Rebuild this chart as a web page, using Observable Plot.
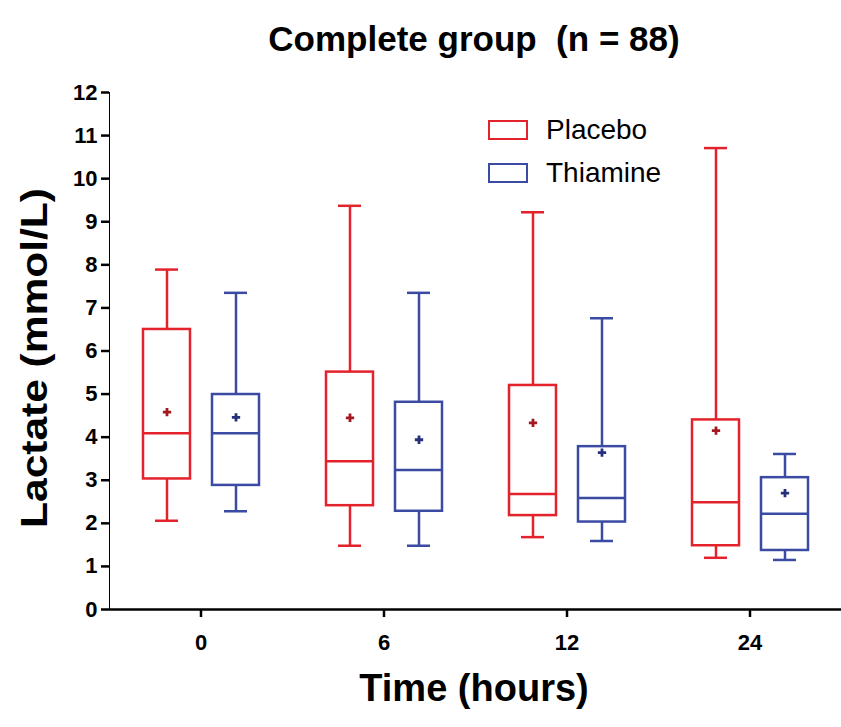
<!DOCTYPE html>
<html>
<head>
<meta charset="utf-8">
<script src="https://cdn.jsdelivr.net/npm/d3@7"></script>
<script src="https://cdn.jsdelivr.net/npm/@observablehq/plot@0.6"></script>
<style>
  html, body { margin: 0; padding: 0; background: #fff; }
  #wrap { position: relative; width: 841px; height: 727px; overflow: hidden; font-family: "Liberation Sans", Arial, sans-serif; color: #000; }
  #title { position: absolute; left: 107px; width: 734px; top: 19px; text-align: center; font-weight: bold; font-size: 35px; white-space: pre; }
  #xlabel { position: absolute; left: 107px; width: 734px; top: 667px; text-align: center; font-weight: bold; font-size: 38px; }
  #ylabel { position: absolute; left: 35px; top: 358px; transform: translate(-50%, -50%) rotate(-90deg) scaleX(1.18); font-weight: bold; font-size: 36px; white-space: nowrap; }
  #chart { position: absolute; left: 0; top: 75px; }
  #legend { position: absolute; left: 488px; top: 108px; font-size: 28px; }
  .li { display: flex; align-items: center; height: 43px; }
  .sw { width: 36px; height: 16px; border: 2.5px solid; margin-right: 18px; background: #fff; }
  #chart svg g[aria-label="y-axis tick"] path, #chart svg g[aria-label="fx-axis tick"] path { stroke-width: 2.5px; }
  #chart svg g[aria-label="y-axis tick label"], #chart svg g[aria-label="fx-axis tick label"],
  #chart svg g[aria-label="y-axis tick label"] text, #chart svg g[aria-label="fx-axis tick label"] text { font-size: 22px !important; font-weight: bold; }
</style>
</head>
<body>
<div id="wrap">
  <div id="title"></div>
  <div id="chart"></div>
  <div id="xlabel"></div>
  <div id="ylabel"></div>
  <div id="legend"></div>
</div>
<script>
// ---- Data ----
const titleText = "Complete group  (n = 88)";
const xTitle = "Time (hours)";
const yTitle = "Lactate (mmol/L)";
const times = ["0", "6", "12", "24"];
const groups = ["Placebo", "Thiamine"];
const groupColors = ["#e4222b", "#3b4aa3"];
const meanColors = ["#a3191f", "#26307a"];
const yTicks = [0, 1, 2, 3, 4, 5, 6, 7, 8, 9, 10, 11, 12];

const placeboMin    = [2.06, 1.48, 1.68, 1.20];
const placeboQ1     = [3.03, 2.41, 2.18, 1.48];
const placeboMedian = [4.09, 3.44, 2.68, 2.49];
const placeboQ3     = [6.50, 5.51, 5.20, 4.40];
const placeboMax    = [7.89, 9.37, 9.22, 10.71];
const placeboMean   = [4.58, 4.45, 4.33, 4.15];

const thiamineMin    = [2.28, 1.48, 1.59, 1.15];
const thiamineQ1     = [2.88, 2.28, 2.03, 1.37];
const thiamineMedian = [4.09, 3.24, 2.59, 2.22];
const thiamineQ3     = [4.99, 4.81, 3.78, 3.06];
const thiamineMax    = [7.35, 7.35, 6.76, 3.61];
const thiamineMean   = [4.46, 3.94, 3.64, 2.70];

// ---- Build table ----
const rows = [];
times.forEach((t, i) => {
  rows.push({time: t, group: groups[0], min: placeboMin[i], q1: placeboQ1[i], median: placeboMedian[i], q3: placeboQ3[i], max: placeboMax[i], mean: placeboMean[i]});
  rows.push({time: t, group: groups[1], min: thiamineMin[i], q1: thiamineQ1[i], median: thiamineMedian[i], q3: thiamineQ3[i], max: thiamineMax[i], mean: thiamineMean[i]});
});

document.getElementById("title").textContent = titleText;
document.getElementById("xlabel").textContent = xTitle;
document.getElementById("ylabel").textContent = yTitle;

const legend = document.getElementById("legend");
groups.forEach((g, i) => {
  const li = document.createElement("div");
  li.className = "li";
  const sw = document.createElement("div");
  sw.className = "sw";
  sw.style.borderColor = groupColors[i];
  li.appendChild(sw);
  const tx = document.createElement("span");
  tx.textContent = g;
  li.appendChild(tx);
  legend.appendChild(li);
});

const sw = 2.5;
const common = {fx: "time", x: "group", stroke: "group", strokeWidth: sw};

const chart = Plot.plot({
  width: 841,
  height: 600,
  marginLeft: 108,
  marginRight: 0,
  marginTop: 17,
  marginBottom: 66,
  style: {fontFamily: "'Liberation Sans', Arial, sans-serif", fontSize: "22px", fontWeight: "bold", color: "#000", background: "transparent", overflow: "visible"},
  fx: {domain: times, padding: 0, label: null, axis: "bottom", tickSize: 8, tickPadding: 17},
  x: {domain: groups, paddingInner: 0.32, paddingOuter: 0.486, axis: null},
  y: {domain: [0, 12], ticks: yTicks, tickSize: 8, tickPadding: 4, label: null, line: true},
  color: {domain: groups, range: groupColors},
  marks: [
    Plot.ruleY([0], {strokeWidth: sw, stroke: "#000"}),
    Plot.ruleX(rows, {...common, y1: "min", y2: "q1"}),
    Plot.ruleX(rows, {...common, y1: "q3", y2: "max"}),
    Plot.barY(rows, {...common, y1: "q1", y2: "q3", fill: "white"}),
    Plot.tickY(rows, {...common, y: "median"}),
    Plot.tickY(rows, {...common, y: "min", inset: 12}),
    Plot.tickY(rows, {...common, y: "max", inset: 12}),
    Plot.dot(rows.filter(d => d.group === groups[0]), {fx: "time", x: "group", y: "mean", symbol: "cross", r: 3.5, fill: meanColors[0]}),
    Plot.dot(rows.filter(d => d.group === groups[1]), {fx: "time", x: "group", y: "mean", symbol: "cross", r: 3.5, fill: meanColors[1]})
  ]
});
document.getElementById("chart").appendChild(chart);
</script>
</body>
</html>
